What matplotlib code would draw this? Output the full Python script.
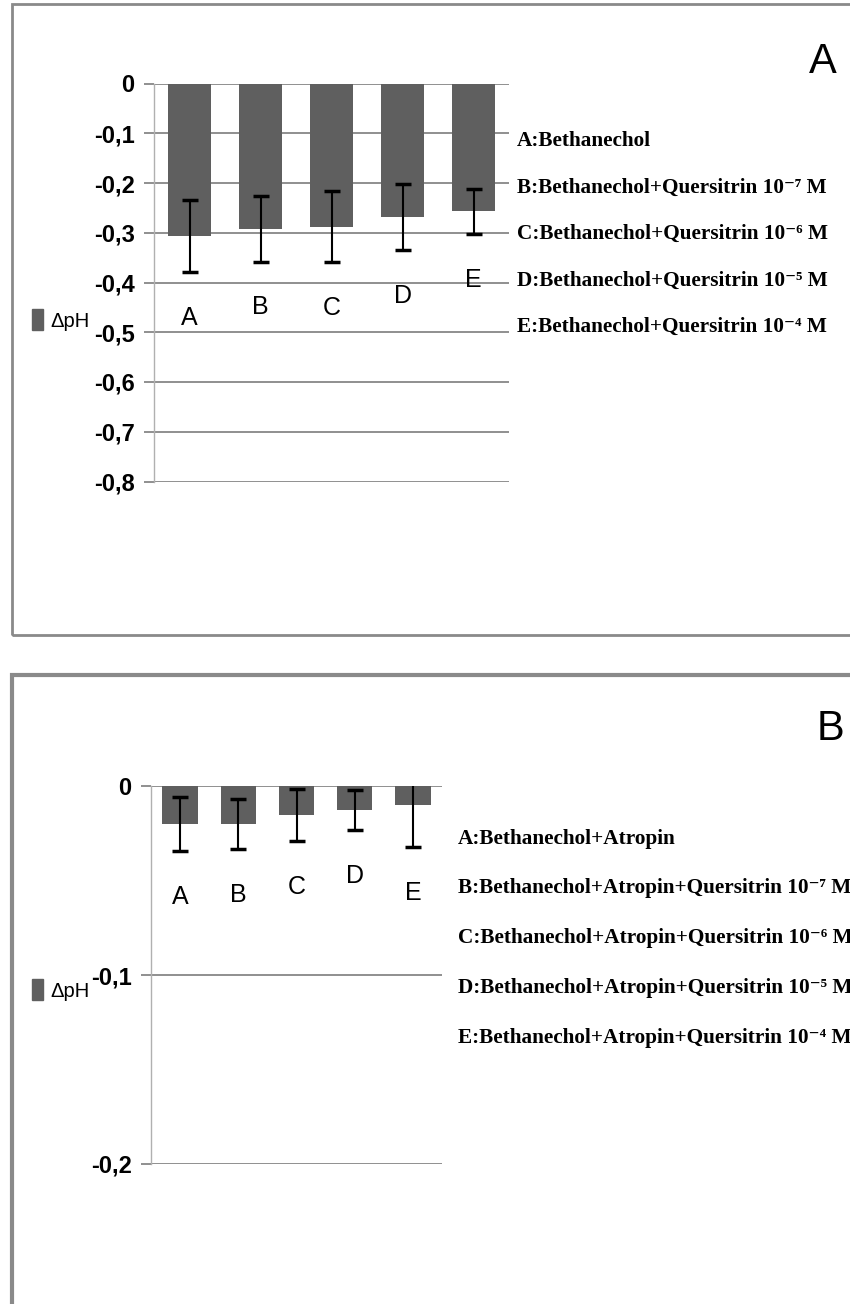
import matplotlib
matplotlib.use("Agg")
import matplotlib.pyplot as plt
from matplotlib.patches import Rectangle, Patch
from matplotlib.ticker import FuncFormatter

W, H = 850, 1304

# bar labels
groups = ["A", "B", "C", "D", "E"]

# panel A: bethanechol with quersitrin
dph_a = [-0.307, -0.292, -0.288, -0.269, -0.257]
err_a = [0.072, 0.066, 0.071, 0.066, 0.045]
ticks_a = [0, -0.1, -0.2, -0.3, -0.4, -0.5, -0.6, -0.7, -0.8]
names_a = [
    "A:Bethanechol",
    "B:Bethanechol+Quersitrin 10\u207b\u2077 M",
    "C:Bethanechol+Quersitrin 10\u207b\u2076 M",
    "D:Bethanechol+Quersitrin 10\u207b\u2075 M",
    "E:Bethanechol+Quersitrin 10\u207b\u2074 M",
]

# panel B: bethanechol + atropin with quersitrin
dph_b = [-0.020, -0.020, -0.015, -0.0125, -0.0096]
err_b = [0.0142, 0.0133, 0.0137, 0.0108, 0.0226]
ticks_b = [0, -0.1, -0.2]
names_b = [
    "A:Bethanechol+Atropin",
    "B:Bethanechol+Atropin+Quersitrin 10\u207b\u2077 M",
    "C:Bethanechol+Atropin+Quersitrin 10\u207b\u2076 M",
    "D:Bethanechol+Atropin+Quersitrin 10\u207b\u2075 M",
    "E:Bethanechol+Atropin+Quersitrin 10\u207b\u2074 M",
]

SANS = ["Liberation Sans", "DejaVu Sans"]
SERIF = ["Liberation Serif", "DejaVu Serif"]

BAR = "#5f5f5f"
GRID = "#878787"


def fx(x):
    return x / W


def fy(y):
    return 1 - y / H


def comma(v, pos):
    if abs(v) < 1e-9:
        return "0"
    return f"{v:.1f}".replace(".", ",")


def panel(fig, box, vals, errs, ticks, names, name_x, name_y, letter, letter_xy, key_y):
    left, top, right, bottom = box
    ax = fig.add_axes([fx(left), fy(bottom), fx(right - left), (bottom - top) / H])
    x = range(len(groups))
    ax.bar(x, vals, width=0.61, color=BAR, zorder=2)
    ax.errorbar(x, vals, yerr=errs, fmt="none", ecolor="black", elinewidth=1.5,
                capsize=6, capthick=2.5, zorder=3)
    ax.set_xlim(-0.5, len(groups) - 0.5)
    ax.set_ylim(min(ticks), 0)
    ax.set_yticks(ticks)
    ax.yaxis.set_major_formatter(FuncFormatter(comma))
    ax.set_xticks([])
    ax.grid(axis="y", color=GRID, lw=1.3, zorder=0)
    ax.tick_params(axis="y", length=7, width=1.3, color=GRID, pad=7)
    for lab in ax.get_yticklabels():
        lab.set_family(SANS)
        lab.set_fontsize(17)
        lab.set_fontweight("bold")
    for s in ["top", "right", "bottom"]:
        ax.spines[s].set_visible(False)
    ax.spines["left"].set_color("#b0b0b0")
    ax.spines["left"].set_linewidth(1)

    # group letters hang under each error bar
    for i, g in enumerate(groups):
        ax.annotate(g, (i, vals[i] - errs[i]), xytext=(0, -33), textcoords="offset points",
                    ha="center", va="center", family=SANS, fontsize=18)

    ax.legend(handles=[Patch(color=BAR)], labels=["\u0394pH"], loc="center left",
              bbox_to_anchor=(fx(32), fy(key_y)), bbox_transform=fig.transFigure,
              frameon=False, handlelength=0.55, handleheight=1.2, handletextpad=0.35,
              borderpad=0, borderaxespad=0, prop={"family": SANS, "size": 14.5})

    for n, yy in zip(names, name_y):
        fig.text(fx(name_x), fy(yy), n, family=SERIF, fontweight="bold",
                 fontsize=15.3, va="center", ha="left")
    fig.text(fx(letter_xy[0]), fy(letter_xy[1]), letter, family=SANS,
             fontsize=30, ha="center", va="center")
    return ax


fig = plt.figure(figsize=(W / 100, H / 100), dpi=100)

# panel frames
fig.patches.append(Rectangle((fx(12), fy(635)), fx(900), (635 - 4) / H,
                             transform=fig.transFigure, fill=False,
                             edgecolor="#8a8a8a", lw=2))
fig.patches.append(Rectangle((fx(12), fy(1400)), fx(900), (1400 - 675) / H,
                             transform=fig.transFigure, fill=False,
                             edgecolor="#8a8a8a", lw=3))

panel(fig, (154, 83.5, 509, 481.5), dph_a, err_a, ticks_a, names_a,
      517, [141, 188, 234, 281, 327], "A", (823, 62), 320)
panel(fig, (151, 786.5, 442, 1164), dph_b, err_b, ticks_b, names_b,
      458, [839, 888, 938, 988, 1038], "B", (830, 729), 990)

fig.savefig("out.png", dpi=100)
